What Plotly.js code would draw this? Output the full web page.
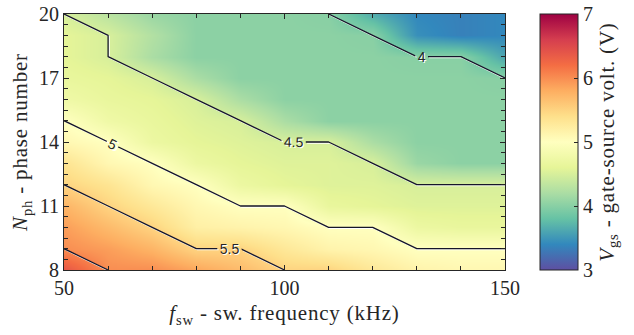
<!DOCTYPE html>
<html><head><meta charset="utf-8">
<script src="https://cdn.plot.ly/plotly-3.0.1.min.js"></script>
<style>
html,body{margin:0;padding:0;background:#fff}
#chart{width:634px;height:335px}
text.xtitle, text.ytitle, .cbtitle text, text.cbtitle { letter-spacing: 0.8px; }
</style>
</head><body><div id="chart"></div>
<script>
// switching frequency (kHz) and phase number grid
const freqKHz = [50, 60, 70, 80, 90, 100, 110, 120, 130, 140, 150];
const phaseNum = [8, 9, 10, 11, 12, 13, 14, 15, 16, 17, 18, 19, 20];
// gate-source voltage (V), one row per phase number (8 -> 20)
const vgs8  = [6.40, 6.00, 6.00, 5.85, 5.70, 5.50, 5.50, 5.30, 5.15, 5.10, 5.10];
const vgs9  = [6.00, 5.90, 5.75, 5.50, 5.50, 5.30, 5.15, 5.10, 5.00, 5.00, 5.00];
const vgs10 = [5.90, 5.70, 5.50, 5.20, 5.15, 5.10, 5.00, 5.00, 4.70, 4.65, 4.65];
const vgs11 = [5.75, 5.50, 5.30, 5.10, 5.00, 5.00, 4.65, 4.60, 4.55, 4.55, 4.55];
const vgs12 = [5.50, 5.35, 5.10, 5.00, 4.70, 4.60, 4.55, 4.55, 4.50, 4.50, 4.50];
const vgs13 = [5.35, 5.10, 5.00, 4.70, 4.60, 4.55, 4.55, 4.50, 4.10, 4.02, 4.02];
const vgs14 = [5.10, 5.00, 4.70, 4.60, 4.55, 4.50, 4.50, 4.20, 4.02, 4.02, 4.02];
const vgs15 = [5.00, 4.75, 4.65, 4.55, 4.50, 4.20, 4.02, 4.02, 4.02, 4.02, 4.02];
const vgs16 = [4.75, 4.65, 4.60, 4.50, 4.20, 4.02, 4.02, 4.02, 4.02, 4.02, 4.02];
const vgs17 = [4.65, 4.60, 4.50, 4.20, 4.02, 4.02, 4.02, 4.02, 4.02, 4.02, 4.00];
const vgs18 = [4.60, 4.50, 4.20, 4.02, 4.02, 4.02, 4.02, 4.02, 4.00, 4.00, 3.60];
const vgs19 = [4.60, 4.50, 4.25, 4.02, 4.02, 4.02, 4.02, 4.00, 3.45, 3.35, 3.40];
const vgs20 = [4.50, 4.30, 4.10, 4.02, 4.02, 4.02, 4.00, 3.65, 3.40, 3.35, 3.40];
const vgs = [vgs8, vgs9, vgs10, vgs11, vgs12, vgs13, vgs14, vgs15, vgs16, vgs17, vgs18, vgs19, vgs20];

const contourStart = 4, contourEnd = 6, contourStep = 0.5;
const xTickVals = [50, 100, 150];
const yTickVals = [8, 11, 14, 17, 20];
const cbTickVals = [3, 4, 5, 6, 7];

const spectralR = [[0,'#5e4fa2'],[0.1,'#3288bd'],[0.2,'#66c2a5'],[0.3,'#abdda4'],[0.4,'#e6f598'],
  [0.5,'#ffffbf'],[0.6,'#fee08b'],[0.7,'#fdae61'],[0.8,'#f46d43'],[0.9,'#d53e4f'],[1,'#9e0142']];

const serif = 'Liberation Serif';
const sans = 'Liberation Sans';
const ink = '#262626';

const heat = {
  type: 'heatmap', x: freqKHz, y: phaseNum, z: vgs, zsmooth: 'best',
  colorscale: spectralR, zmin: 3, zmax: 7, hoverinfo: 'skip',
  colorbar: {
    x: 1.0787, xanchor: 'left', xpad: 0, ypad: 0, y: 0.5, yanchor: 'middle',
    len: 1, lenmode: 'fraction', thickness: 38, thicknessmode: 'pixels',
    outlinewidth: 1, outlinecolor: ink,
    tickmode: 'array', tickvals: cbTickVals, ticktext: cbTickVals.map(String),
    ticks: 'inside', ticklen: 4, tickcolor: ink,
    tickfont: {family: serif, size: 20, color: ink},
    title: {text: '<i>V</i><sub>gs</sub> - gate-source volt. (V)', side: 'right',
            font: {family: serif, size: 21, color: ink}}
  }
};

const contourSpec = {start: contourStart, end: contourEnd, size: contourStep,
  coloring: 'none', showlabels: true};

const shadow = {
  type: 'contour', x: freqKHz.map(v => v + 0.25), y: phaseNum.map(v => v - 0.05), z: vgs,
  autocontour: false,
  contours: Object.assign({}, contourSpec, {labelfont: {family: sans, size: 14, color: '#ffffff'}}),
  line: {color: '#ffffff', width: 1.2, smoothing: 0}, showscale: false, hoverinfo: 'skip'
};

const lines = {
  type: 'contour', x: freqKHz, y: phaseNum, z: vgs,
  autocontour: false,
  contours: Object.assign({}, contourSpec, {labelfont: {family: sans, size: 14, color: ink}}),
  line: {color: '#16162a', width: 1.3, smoothing: 0}, showscale: false, hoverinfo: 'skip'
};

const axisCommon = {
  showline: true, linecolor: ink, linewidth: 1, mirror: 'ticks',
  ticks: 'inside', ticklen: 5, tickcolor: ink, tickwidth: 1,
  showgrid: false, zeroline: false,
  tickfont: {family: serif, size: 20, color: ink}
};

const layout = {
  width: 634, height: 335,
  margin: {l: 64, r: 125, t: 14, b: 65},
  paper_bgcolor: '#ffffff', plot_bgcolor: '#ffffff',
  showlegend: false,
  xaxis: Object.assign({}, axisCommon, {
    range: [50, 150], tickmode: 'array', tickvals: xTickVals, ticktext: xTickVals.map(String),
    minor: {dtick: 10, tick0: 50, ticks: 'inside', ticklen: 4, tickcolor: ink},
    title: {text: '<i>f</i><sub>sw</sub> - sw. frequency (kHz)', standoff: 7,
            font: {family: serif, size: 21, color: ink}}
  }),
  yaxis: Object.assign({}, axisCommon, {
    range: [8, 20], tickmode: 'array', tickvals: yTickVals, ticktext: yTickVals.map(String),
    minor: {dtick: 0.5, tick0: 8, ticks: 'inside', ticklen: 4, tickcolor: ink},
    title: {text: '<i>N</i><sub>ph</sub> - phase number', standoff: 5,
            font: {family: serif, size: 21, color: ink}}
  })
};

Plotly.newPlot('chart', [heat, shadow, lines], layout, {staticPlot: true, displayModeBar: false});
</script></body></html>
